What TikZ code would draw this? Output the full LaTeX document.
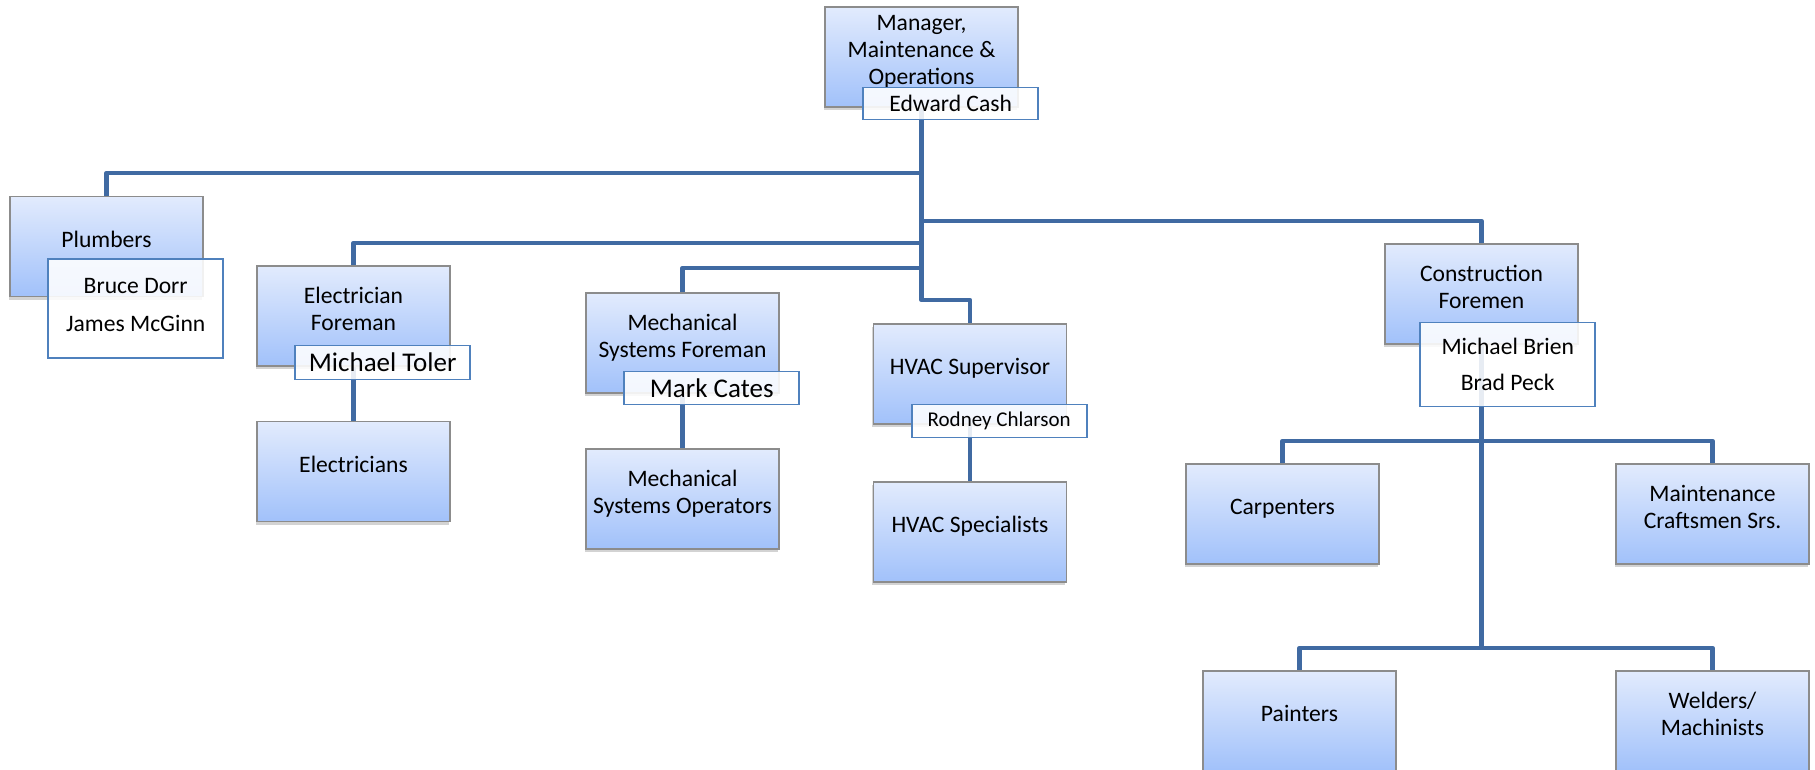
\documentclass[tikz,border=0pt]{standalone}
\usepackage{fontspec}
\setmainfont{Carlito}
\definecolor{orgline}{RGB}{64,106,162}
\definecolor{orgedge}{RGB}{79,129,189}
\definecolor{orgbox}{RGB}{140,140,140}
\definecolor{boxtop}{RGB}{226,235,253}
\definecolor{boxbot}{RGB}{161,193,250}
\usetikzlibrary{positioning,shadows,backgrounds}
% title text sits a little above the middle of its box
\newcommand{\roletext}[1]{\raisebox{-1.5pt}[0pt][0pt]{\begin{tabular}{@{}c@{}}#1\end{tabular}}}

\begin{document}
\begin{tikzpicture}[x=1pt, y=-1pt,
    role/.style={rectangle, draw=orgbox, line width=1.2pt, top color=boxtop, bottom color=boxbot,
        minimum width=193pt, minimum height=100pt, inner sep=0pt,
        font=\fontsize{23.6}{27}\selectfont,
        drop shadow={shadow xshift=-1.5pt, shadow yshift=-3pt, opacity=0.35}},
    person/.style={rectangle, draw=orgedge, line width=1.6pt, fill=white, fill opacity=0.88, text opacity=1,
        minimum width=175pt, minimum height=33pt, inner sep=0pt, align=center, anchor=north west,
        font=\fontsize{23.6}{28}\selectfont},
    link/.style={orgline, line width=4.5pt, line join=round}]
    \useasboundingbox (0,0) rectangle (1815,770);

    % top of the chart
    \node[role] (mgr) at (921.5,57) {\roletext{Manager,\\Maintenance \&\\Operations}};
    \node[person, minimum height=32pt] (mgrname) at ([xshift=38pt, yshift=21pt]mgr.south west) {Edward Cash};

    % foremen and supervisors
    \node[role] (plumb) at (106.5,246.5) {\roletext{Plumbers}};
    \node[person, minimum height=99pt] (plumbname) at ([xshift=38pt, yshift=39pt]plumb.south west) {Bruce Dorr\\[10pt]James McGinn\\[-21pt]};
    \node[role] (elec) at (353.5,316) {\roletext{Electrician\\Foreman}};
    \node[person, minimum height=34pt, font=\fontsize{27}{30}\selectfont] (elecname) at ([xshift=38pt, yshift=22pt]elec.south west) {Michael Toler};
    \node[role] (mech) at (682.5,343) {\roletext{Mechanical\\Systems Foreman}};
    \node[person, minimum height=33pt, font=\fontsize{27}{30}\selectfont] (mechname) at ([xshift=38pt, yshift=23pt]mech.south west) {Mark Cates};
    \node[role] (hvac) at (970,374) {\roletext{HVAC Supervisor}};
    \node[person, font=\fontsize{21}{25}\selectfont] (hvacname) at ([xshift=38pt, yshift=21pt]hvac.south west) {Rodney Chlarson};
    \node[role] (constr) at (1481.5,294) {\roletext{Construction\\Foremen}};
    \node[person, minimum height=84pt] (constrname) at ([xshift=35pt, yshift=23pt]constr.south west) {Michael Brien\\[8pt]Brad Peck};

    % crews
    \node[role] (electricians) at (353.5,471.5) {\roletext{Electricians}};
    \node[role] (mechops) at (682.5,499) {\roletext{Mechanical\\Systems Operators}};
    \node[role] (hvacspec) at (970,532) {\roletext{HVAC Specialists}};
    \node[role] (carp) at (1282.5,514) {\roletext{Carpenters}};
    \node[role] (maint) at (1712.5,514) {\roletext{Maintenance\\Craftsmen Srs.}};
    \node[role] (paint) at (1299.5,721) {\roletext{Painters}};
    \node[role] (weld) at (1712.5,721) {\roletext{Welders/\\Machinists}};

    % connectors behind the boxes
    \begin{scope}[on background layer]
        \coordinate (t0) at (921.5,173);
        \coordinate (t1) at (921.5,221);
        \coordinate (t2) at (921.5,243);
        \coordinate (t3) at (921.5,268);
        \coordinate (t4) at (921.5,300);
        \coordinate (c1) at (1481.5,441);
        \coordinate (c2) at (1481.5,648);
        \draw[link] (mgr.south) -- (t4) -| (hvac.north);
        \foreach \bus/\dept in {t0/plumb, t1/constr, t2/elec, t3/mech}
            \draw[link] (\bus) -| (\dept.north);
        \foreach \boss/\crew in {elec/electricians, mech/mechops, hvac/hvacspec}
            \draw[link] (\boss.south) -- (\crew.north);
        \draw[link] (constr.south) -- (c2);
        \foreach \bus/\crew in {c1/carp, c1/maint, c2/paint, c2/weld}
            \draw[link] (\bus) -| (\crew.north);
    \end{scope}
\end{tikzpicture}
\end{document}
